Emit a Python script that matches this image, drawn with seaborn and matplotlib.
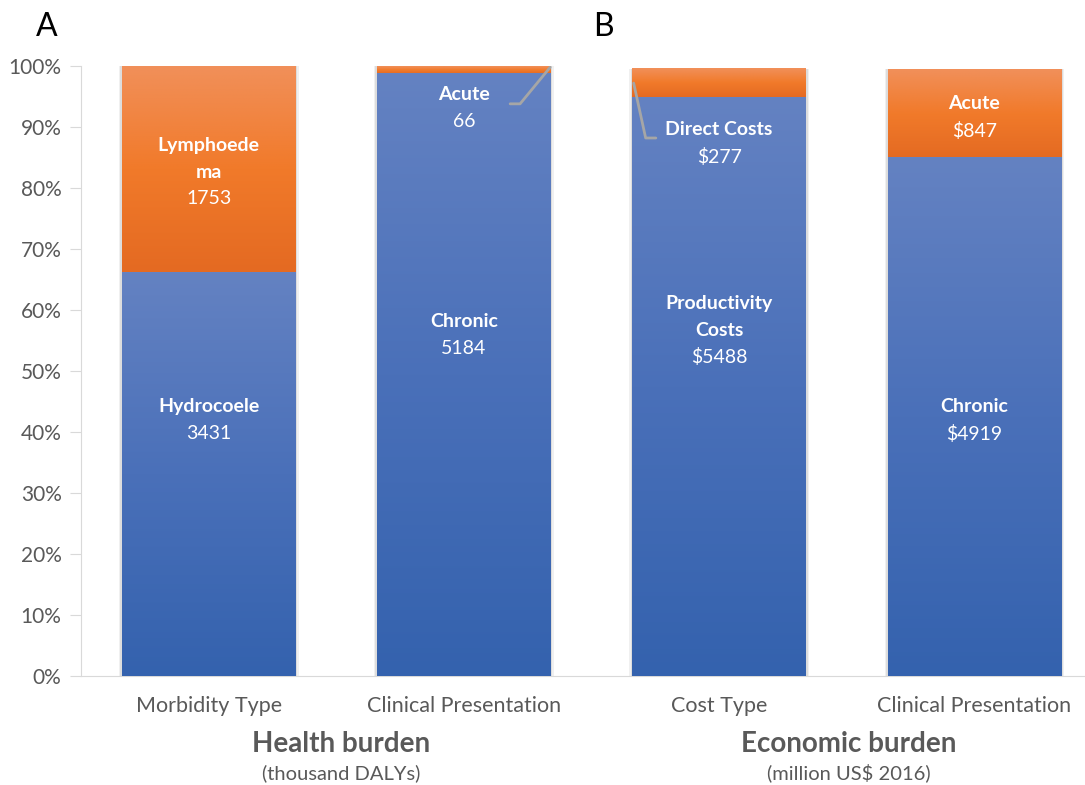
import numpy as np
import pandas as pd
import matplotlib.pyplot as plt
import seaborn as sns
from matplotlib.colors import LinearSegmentedColormap

# data (percent of each bar)
categories = ["Morbidity Type", "Clinical Presentation", "Cost Type", "Clinical Presentation"]
bottom_pct = [66.2, 98.7, 94.9, 85.0]
top_pct = [33.8, 1.3, 4.6, 14.5]
bottom_names = ["Hydrocoele", "Chronic", "Productivity\nCosts", "Chronic"]
bottom_values = ["3431", "5184", "$5488", "$4919"]
top_names = ["Lymphoede\nma", "Acute", "Direct Costs", "Acute"]
top_values = ["1753", "66", "$277", "$847"]

# where the labels sit (percent of axis)
bottom_label_y = [45.6, 59.5, 62.5, 45.6]
top_label_y = [88.4, 96.7, 91.0, 95.3]

df = pd.DataFrame({
    "slot": [0, 1, 2, 3],
    "bottom": bottom_pct,
    "total": [b + t for b, t in zip(bottom_pct, top_pct)],
})

sns.set_style("white")
plt.rcParams['font.family'] = ['Lato', 'DejaVu Sans']

fig = plt.figure(figsize=(10.85, 7.85), dpi=100)
ax = fig.add_axes([0.0747, 0.1389, 0.941, 0.777])

sns.barplot(data=df, x="slot", y="total", color="#ED7D31", width=0.68, ax=ax, saturation=1)
sns.barplot(data=df, x="slot", y="bottom", color="#4472C4", width=0.68, ax=ax, saturation=1)

blue_cmap = LinearSegmentedColormap.from_list("b", ["#3462AE", "#4A70B9", "#6482C2"])
orange_cmap = LinearSegmentedColormap.from_list("o", ["#E46A22", "#F17A2A", "#F1905A"])
grad = np.linspace(0, 1, 256).reshape(-1, 1)

patches = list(ax.patches)
for i, p in enumerate(patches):
    x0, y0 = p.get_x(), p.get_y()
    w, h = p.get_width(), p.get_height()
    if i < 4:
        # orange part only above the blue one
        y0 = bottom_pct[i]
        h = top_pct[i]
        cmap = orange_cmap
    else:
        cmap = blue_cmap
    # soft shadow
    for k, a in [(0.012, 0.06), (0.007, 0.08)]:
        ax.add_patch(plt.Rectangle((x0 - k, y0), w + 2 * k, h, color="black",
                                   alpha=a, lw=0, zorder=1))
    ax.imshow(grad, cmap=cmap, origin="lower", aspect="auto",
              extent=(x0, x0 + w, y0, y0 + h), zorder=3)
    p.set_visible(False)

# leader lines
ax.plot([1.181, 1.220, 1.338], [93.8, 93.8, 99.8], color="#A6A6A6", lw=2, zorder=5)
ax.plot([1.665, 1.712, 1.752], [97.2, 88.2, 88.2], color="#A6A6A6", lw=2, zorder=5)

for i in range(4):
    n_lines = bottom_names[i].count("\n") + 1
    ax.text(i, bottom_label_y[i], bottom_names[i], fontweight="bold", va="top", ha="center",
            color="white", fontsize=14, zorder=6, linespacing=1.7)
    ax.text(i, bottom_label_y[i] - 4.4 * n_lines, bottom_values[i], va="top", ha="center",
            color="white", fontsize=14, zorder=6)
    n_lines = top_names[i].count("\n") + 1
    ax.text(i, top_label_y[i], top_names[i], fontweight="bold", va="top", ha="center",
            color="white", fontsize=14, zorder=6, linespacing=1.7)
    ax.text(i, top_label_y[i] - 4.4 * n_lines, top_values[i], va="top", ha="center",
            color="white", fontsize=14, zorder=6)

ax.set_xlim(-0.5, 3.5)
ax.set_ylim(0, 100)
ax.set_yticks(np.arange(0, 101, 10))
ax.set_yticklabels([f"{v}%" for v in range(0, 101, 10)], fontsize=15, color="#595959")
ax.set_xticks(range(4))
ax.set_xticklabels(categories, fontsize=15.5, color="#595959")
ax.set_xlabel("")
ax.set_ylabel("")
ax.tick_params(axis="y", left=True, length=8, color="#D9D9D9", pad=6)
ax.tick_params(axis="x", bottom=False, pad=11)
for s in ["top", "right"]:
    ax.spines[s].set_visible(False)
ax.spines["left"].set_color("#D9D9D9")
ax.spines["bottom"].set_color("#D9D9D9")

fig.text(341 / 1085, 1 - 744 / 785, "Health burden", ha="center", va="center",
         fontsize=20, fontweight="bold", color="#595959")
fig.text(341 / 1085, 1 - 773 / 785, "(thousand DALYs)", ha="center", va="center",
         fontsize=14.5, color="#595959")
fig.text(849 / 1085, 1 - 744 / 785, "Economic burden", ha="center", va="center",
         fontsize=20, fontweight="bold", color="#595959")
fig.text(849 / 1085, 1 - 773 / 785, "(million US$ 2016)", ha="center", va="center",
         fontsize=14.5, color="#595959")
fig.text(47 / 1085, 1 - 27 / 785, "A", ha="center", va="center", fontsize=23, color="black")
fig.text(603 / 1085, 1 - 27 / 785, "B", ha="center", va="center", fontsize=23, color="black")

fig.savefig("out.png", dpi=100)
